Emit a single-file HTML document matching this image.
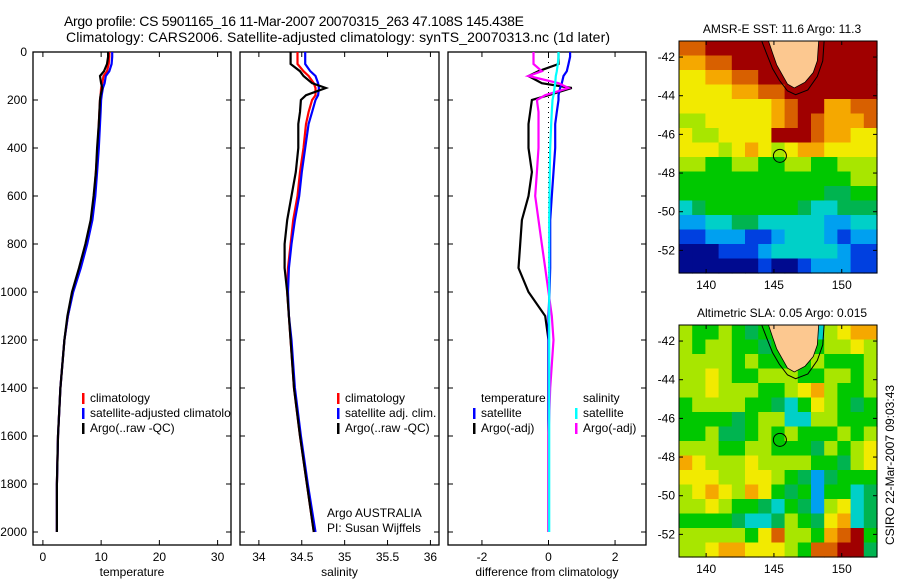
<!DOCTYPE html>
<html><head><meta charset="utf-8"><style>
body{margin:0;background:#fff;}
svg{display:block;font-family:"Liberation Sans",sans-serif;}
</style></head><body>
<svg id="fig" width="900" height="580" viewBox="0 0 900 580">
<text x="64" y="26" font-size="14" textLength="460">Argo profile: CS 5901165_16 11-Mar-2007 20070315_263 47.108S 145.438E</text>
<text x="66" y="42" font-size="14" textLength="544">Climatology: CARS2006. Satellite-adjusted climatology: synTS_20070313.nc (1d later)</text>
</svg>
<script>
// ---- profile data ----
const depths = [0,20,50,80,100,130,150,180,200,250,300,400,500,600,700,800,900,1000,1100,1200,1400,1600,1800,2000];
const tempArgo = [11.2,11.2,11.0,10.5,9.8,10.0,10.2,9.9,9.8,9.7,9.6,9.3,9.1,8.7,8.2,7.3,6.2,5.0,4.2,3.7,3.0,2.6,2.4,2.4];
const tempClim = [11.4,11.4,11.3,11.0,10.4,10.2,10.0,9.9,9.8,9.7,9.6,9.4,9.1,8.8,8.3,7.5,6.4,5.1,4.3,3.7,3.0,2.6,2.4,2.4];
const tempSat  = [11.9,11.9,11.8,11.4,10.8,10.6,10.3,10.1,10.0,9.9,9.8,9.6,9.3,9.0,8.5,7.6,6.5,5.2,4.3,3.7,3.0,2.6,2.4,2.4];
const salArgo = [34.37,34.37,34.37,34.48,34.52,34.62,34.78,34.55,34.49,34.48,34.46,34.46,34.43,34.38,34.33,34.30,34.30,34.33,34.35,34.37,34.41,34.48,34.56,34.64];
const salClim = [34.45,34.45,34.45,34.52,34.58,34.64,34.66,34.66,34.62,34.58,34.55,34.52,34.48,34.45,34.40,34.37,34.34,34.33,34.35,34.37,34.41,34.48,34.56,34.64];
const salSat  = [34.54,34.54,34.54,34.60,34.66,34.69,34.70,34.69,34.66,34.62,34.58,34.54,34.50,34.47,34.42,34.38,34.35,34.34,34.35,34.38,34.42,34.49,34.57,34.66];
const dTempArgo = [0.3,0.3,0.3,-0.3,-0.6,-0.2,0.7,0,-0.5,-0.55,-0.6,-0.6,-0.5,-0.6,-0.8,-0.85,-0.9,-0.6,-0.1,0,0,0,0,0];
const dTempSat  = [0.65,0.65,0.6,0.55,0.45,0.4,0.35,0.3,0.3,0.25,0.2,0.2,0.15,0.1,0.05,0.05,0.05,0.03,0,0,0,0,0,0];
const dSalSat   = [0.3,0.3,0.28,0.25,0.22,0.2,0.18,0.15,0.12,0.1,0.08,0.05,0.04,0.03,0.02,0.02,0.02,0.02,0.02,0.02,0.02,0.02,0.02,0.02];
const dSalArgo  = [-0.45,-0.45,-0.45,-0.2,-0.6,0.3,0.6,-0.1,-0.35,-0.3,-0.3,-0.3,-0.35,-0.4,-0.3,-0.2,-0.1,0,0.1,0.15,0.05,0,0,0];
const depthTicks = [0,200,400,600,800,1000,1200,1400,1600,1800,2000];
const tempTicks = [0,10,20,30];
const salTicks = [34,34.5,35,35.5,36];
const diffTicks = [-2,0,2];
// ---- map data (colour class 0..a per cell, L = land) ----
const sstRows = ["99aaaaaaaaaaaaa","8899aaaaaaaaaaa","778899aaaaaaaaa","77778899aaaaaaa","777777789aa8899","667777789a98889","7667777aaa98877","777678767887777","665566556655666","555555555555566","555555555554455","345555555433444","223344333332233","112221123332122","000111233333211","000000100122211"];
const slaRows = ["655654555536788","656655455556676","666656555565556","667655666556656","667666556786556","566665543576545","555545663366555","556445656555656","666556655546567","876667666655467","777667765424555","678768754525534","667655435426734","555543346547834","6666657966589a5","667887776599aa4"];
const mapLonTicks = [140,145,150];
const mapLatTicks = [-42,-44,-46,-48,-50,-52];

const NS="http://www.w3.org/2000/svg";
const svg=document.getElementById('fig');
function el(tag,attrs,parent){const e=document.createElementNS(NS,tag);for(const k in attrs)e.setAttribute(k,attrs[k]);(parent||svg).appendChild(e);return e;}
function txt(x,y,s,size,anchor,parent){const t=el('text',{x:x,y:y,'font-size':size,'text-anchor':anchor||'start'},parent);t.textContent=s;return t;}

const Y0=52, YPX=0.24;
const yD=d=>Y0+d*YPX;
function panel(name,x0,x1,xmin,xmax,ticks,label,fmt){
  const g=el('g',{});
  
  
  const sx=v=>x0+(v-xmin)/(xmax-xmin)*(x1-x0);
  const fr=el('rect',{x:x0,y:52,width:x1-x0,height:493,fill:'none',stroke:'#000','stroke-width':1.3},g);
  
  
  depthTicks.forEach(d=>{el('line',{x1:x0,x2:x0+5,y1:yD(d),y2:yD(d),stroke:'#000'},g);el('line',{x1:x1,x2:x1-5,y1:yD(d),y2:yD(d),stroke:'#000'},g);});
  ticks.forEach(v=>{const x=sx(v);el('line',{x1:x,x2:x,y1:545,y2:540,stroke:'#000'},g);el('line',{x1:x,x2:x,y1:52,y2:57,stroke:'#000'},g);
    const t=txt(x,561,fmt?fmt(v):String(v),12,'middle',g);});
  const xl=txt((x0+x1)/2,576,label,12,'middle',g);
  
  
  return {g,sx};
}
function line(p,vals,color,name,w){
  const pts=vals.map((v,i)=>p.sx(v).toFixed(1)+','+yD(depths[i]).toFixed(1)).join(' ');
  const l=el('polyline',{points:pts,fill:'none',stroke:color,'stroke-width':w||2.2},p.g);
  
  
}
// depth labels
depthTicks.forEach(d=>{const t=txt(27,yD(d)+4,String(d),12,'end');});

const p1=panel('temperature-panel',33,231,-1.7,32.3,tempTicks,'temperature');
line(p1,tempClim,'#f00','temperature-climatology-line');
line(p1,tempSat,'#00f','temperature-satellite-line');
line(p1,tempArgo,'#000','temperature-argo-line');
const p2=panel('salinity-panel',240,439,33.78,36.1,salTicks,'salinity');
line(p2,salClim,'#f00','salinity-climatology-line');
line(p2,salSat,'#00f','salinity-satellite-line');
line(p2,salArgo,'#000','salinity-argo-line');
const p3=panel('difference-panel',448,646,-3.02,2.93,diffTicks,'difference from climatology',v=>v<0?'-'+Math.abs(v):String(v));
const zl=el('line',{x1:p3.sx(0),x2:p3.sx(0),y1:yD(0),y2:yD(2000),stroke:'#000','stroke-dasharray':'1,4'},p3.g);


line(p3,dTempArgo,'#000','temp-argo-diff-line');
line(p3,dTempSat,'#00f','temp-satellite-diff-line');
line(p3,dSalArgo,'#f0f','sal-argo-diff-line');
line(p3,dSalSat,'#0ff','sal-satellite-diff-line');

function legend(x,y,color,label,clipR){
  if(color){const m=el('rect',{x:x-8,y:y-9,width:2.5,height:11,fill:color});}
  const t=txt(x,y,label,12,'start');
  
  
  if(clipR){t.setAttribute('clip-path','url(#clip1)');}
}
const defs=el('defs',{});const cp=el('clipPath',{id:'clip1'},defs);el('rect',{x:0,y:0,width:231,height:580},cp);
legend(90,402,'#f00','climatology');
legend(90,417,'#00f','satellite-adjusted climatology',true);
legend(90,432,'#000','Argo(..raw -QC)');
legend(345,402,'#f00','climatology');
legend(345,417,'#00f','satellite adj. clim.');
legend(345,432,'#000','Argo(..raw -QC)');
legend(481,402,null,'temperature');
legend(481,417,'#00f','satellite');
legend(481,432,'#000','Argo(-adj)');
legend(583,402,null,'salinity');
legend(583,417,'#0ff','satellite');
legend(583,432,'#f0f','Argo(-adj)');
const a1=txt(327,517,'Argo AUSTRALIA',12);
const a2=txt(327,532,'PI: Susan Wijffels',12);

// ---- maps ----
const cmap={'0':'#000a8f','1':'#0040e0','2':'#00a0f0','3':'#00d0c8','4':'#00b450','5':'#00c800','6':'#a8e600','7':'#f2ea00','8':'#f5a800','9':'#d86000','a':'#a00000','L':'#00c800'};
function map(name,top,rows,title){
  const L=679,R=877,T=top,B=top+232;
  const lonMin=138.0,lonMax=152.6,latTop=-41.17,latBot=-53.17;
  const mx=lon=>L+(lon-lonMin)/(lonMax-lonMin)*(R-L);
  const my=lat=>T+(latTop-lat)/(latTop-latBot)*(B-T);
  const g=el('g',{});
  
  
  const nr=rows.length,nc=rows[0].length,cw=(R-L)/nc,ch=(B-T)/nr;
  rows.forEach((row,r)=>{[...row].forEach((c,k)=>{
    const cell=el('rect',{x:(L+k*cw).toFixed(2),y:(T+r*ch).toFixed(2),width:(cw+0.6).toFixed(2),height:(ch+0.6).toFixed(2),fill:cmap[c]},g);
    
    
  });});
  const tas=[[144.6,-41.17],[144.9,-41.8],[145.2,-42.4],[145.6,-42.9],[146.0,-43.4],[146.5,-43.6],[147.3,-43.3],[147.9,-42.8],[148.2,-42.2],[148.3,-41.17]];
  const ring=[[144.1,-41.17],[144.5,-41.9],[144.9,-42.6],[145.4,-43.2],[146.0,-43.75],[146.6,-43.95],[147.5,-43.7],[148.2,-43.0],[148.6,-42.2],[148.7,-41.17]];
  const sh=el('polyline',{points:ring.map(p=>mx(p[0])+','+my(p[1])).join(' '),fill:'none',stroke:'#000','stroke-width':1},g);
  
  const land=el('polygon',{points:tas.map(p=>mx(p[0])+','+my(p[1])).join(' '),fill:'#fcc890',stroke:'#000','stroke-width':0.8},g);
  
  
  const c=el('circle',{cx:mx(145.44),cy:my(-47.11),r:6.5,fill:'none',stroke:'#000','stroke-width':1},g);
  
  
  el('rect',{x:L,y:T,width:R-L,height:B-T,fill:'none',stroke:'#000','stroke-width':1},g);
  mapLonTicks.forEach(v=>{const x=mx(v);el('line',{x1:x,x2:x,y1:B,y2:B-4,stroke:'#000'},g);el('line',{x1:x,x2:x,y1:T,y2:T+4,stroke:'#000'},g);
    const t=txt(x,B+16,String(v),12,'middle',g);});
  mapLatTicks.forEach(v=>{const y=my(v);el('line',{x1:L,x2:L+4,y1:y,y2:y,stroke:'#000'},g);el('line',{x1:R,x2:R-4,y1:y,y2:y,stroke:'#000'},g);
    const t=txt(675,y+4,String(v),12,'end',g);});
  const tt=txt(782,T-8,title,12,'middle',g);
  
  
}
map('sst-map',41,sstRows,'AMSR-E SST: 11.6 Argo: 11.3');
map('sla-map',325,slaRows,'Altimetric SLA: 0.05 Argo: 0.015');
const cs=txt(0,0,'CSIRO 22-Mar-2007 09:03:43',12,'middle');
cs.setAttribute('transform','translate(894,465) rotate(-90)');


</script>
</body></html>
